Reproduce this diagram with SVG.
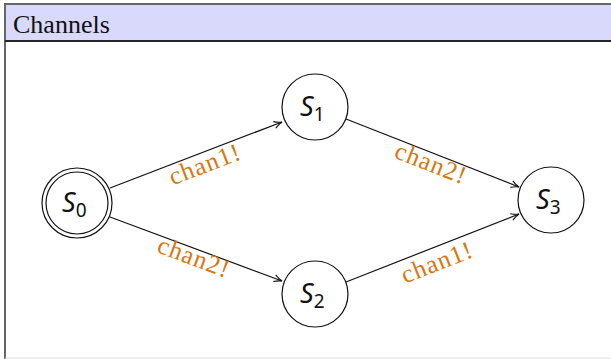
<svg xmlns="http://www.w3.org/2000/svg" width="611" height="359" viewBox="0 0 611 359">
<style>
.node{fill:#fff;stroke:#111;stroke-width:1.2}
.nl{font-family:"Noto Sans","DejaVu Sans",sans-serif;font-style:italic;font-size:27px;fill:#111}
.sub{font-style:normal;font-size:19px}
.edge{stroke:#111;stroke-width:1.2;fill:none;marker-end:url(#arr)}
.el{font-family:"Liberation Serif",serif;font-size:25.5px;fill:#d9770f;letter-spacing:1px;text-anchor:middle}
</style>
<defs>
<marker id="arr" viewBox="0 0 10 10" refX="9" refY="5" markerWidth="10" markerHeight="10" markerUnits="userSpaceOnUse" orient="auto">
<path d="M1,1.5 Q5,4 9,5 Q5,6 1,8.5" fill="none" stroke="#111" stroke-width="1.1"/>
</marker>
</defs>
<rect x="0" y="0" width="611" height="359" fill="#fff"/>
<g id="frame">
<line x1="5" y1="4" x2="5" y2="359" stroke="#666" stroke-width="2"/>
<line x1="5" y1="358" x2="611" y2="358" stroke="#ddd" stroke-width="1"/>
<rect x="5" y="4" width="610" height="37" fill="#d9d9fb" stroke="#666" stroke-width="2"/>
<line x1="5" y1="41" x2="611" y2="41" stroke="#111" stroke-width="1.5"/>
<text x="13" y="32.5" font-family="Liberation Serif,serif" font-size="26px" fill="#111">Channels</text>
</g>
<g id="connectors">
<line class="edge" x1="110" y1="188" x2="282" y2="122"/>
<line class="edge" x1="110" y1="217" x2="282" y2="281"/>
<line class="edge" x1="346" y1="119" x2="519" y2="187"/>
<line class="edge" x1="346" y1="282" x2="519" y2="214"/>
<text class="el" transform="translate(208,172) rotate(-21)">chan1!</text>
<text class="el" transform="translate(191,265) rotate(20.5)">chan2!</text>
<text class="el" transform="translate(428,171) rotate(21.5)">chan2!</text>
<text class="el" transform="translate(440,270) rotate(-21.5)">chan1!</text>
</g>
<g id="S0">
<circle class="node" cx="77" cy="203" r="35"/>
<circle class="node" cx="77" cy="203" r="31"/>
<text class="nl" x="62" y="212">S<tspan class="sub" dy="5">0</tspan></text>
</g>
<g id="S1">
<circle class="node" cx="315" cy="107" r="33"/>
<text class="nl" x="300" y="116">S<tspan class="sub" dy="5">1</tspan></text>
</g>
<g id="S2">
<circle class="node" cx="315" cy="294" r="33"/>
<text class="nl" x="300" y="303">S<tspan class="sub" dy="5">2</tspan></text>
</g>
<g id="S3">
<circle class="node" cx="551" cy="200" r="33"/>
<text class="nl" x="536" y="209">S<tspan class="sub" dy="5">3</tspan></text>
</g>
</svg>
